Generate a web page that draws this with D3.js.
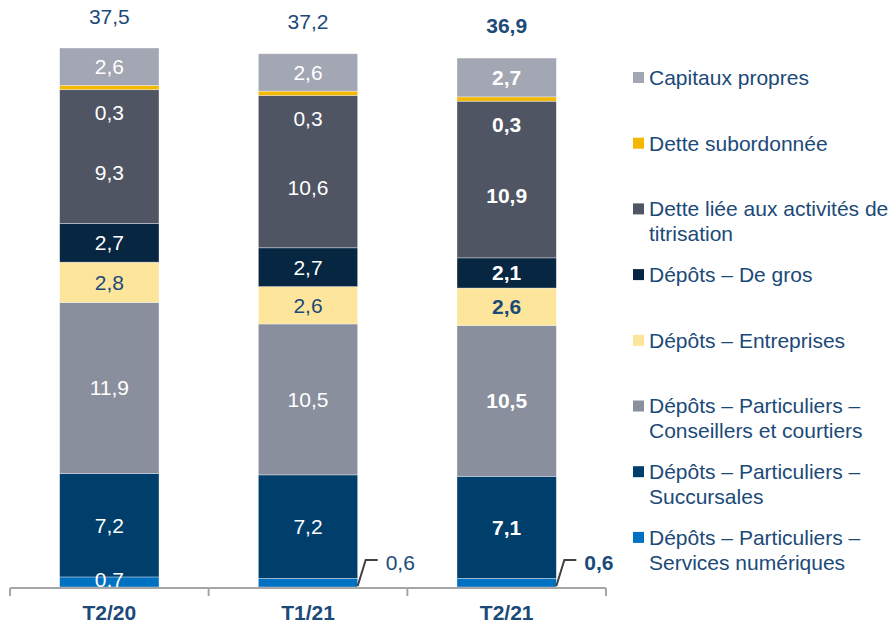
<!DOCTYPE html>
<html>
<head>
<meta charset="utf-8">
<script src="https://cdn.jsdelivr.net/npm/d3@7"></script>
<style>
  body { margin: 0; background: #fff; }
  text { font-family: "Liberation Sans", Arial, sans-serif; }
</style>
</head>
<body>
<div id="chart"></div>
<script>
// Stacked bars, bottom to top
const categories = ["T2/20", "T1/21", "T2/21"];
const totals = [37.5, 37.2, 36.9];

const servicesNum = [0.7, 0.6, 0.6];
const succursales = [7.2, 7.2, 7.1];
const conseillers = [11.9, 10.5, 10.5];
const entreprises = [2.8, 2.6, 2.6];
const deGros = [2.7, 2.7, 2.1];
const titrisation = [9.3, 10.6, 10.9];
const detteSub = [0.3, 0.3, 0.3];
const capitaux = [2.6, 2.6, 2.7];

const keys = ["servicesNum", "succursales", "conseillers", "entreprises", "deGros", "titrisation", "detteSub", "capitaux"];
const legendLines = {
  capitaux: ["Capitaux propres"],
  detteSub: ["Dette subordonnée"],
  titrisation: ["Dette liée aux activités de", "titrisation"],
  deGros: ["Dépôts \u2013 De gros"],
  entreprises: ["Dépôts \u2013 Entreprises"],
  conseillers: ["Dépôts \u2013 Particuliers \u2013", "Conseillers et courtiers"],
  succursales: ["Dépôts \u2013 Particuliers \u2013", "Succursales"],
  servicesNum: ["Dépôts \u2013 Particuliers \u2013", "Services numériques"]
};
const colors = {
  servicesNum: "#0070c0",
  succursales: "#003e6b",
  conseillers: "#8a8f9e",
  entreprises: "#fde59c",
  deGros: "#072642",
  titrisation: "#4f5563",
  detteSub: "#f5b800",
  capitaux: "#a3a6b3"
};
const textBlue = "#1b4a78";

const seriesValues = { servicesNum, succursales, conseillers, entreprises, deGros, titrisation, detteSub, capitaux };
const table = categories.map((c, i) => {
  const row = { cat: c, i: i };
  keys.forEach(k => row[k] = seriesValues[k][i]);
  return row;
});

const width = 895, height = 623;
const fmt = v => d3.format(".1f")(v).replace(".", ",");

const svg = d3.select("#chart").append("svg")
  .attr("width", width)
  .attr("height", height);

const x = d3.scaleBand()
  .domain(categories)
  .range([10, 606])
  .paddingInner(0.5)
  .paddingOuter(0.25);

const y = d3.scaleLinear()
  .domain([0, 37.5])
  .range([587, 48]);

const stack = d3.stack().keys(keys)(table);

// bars
const layers = svg.append("g")
  .selectAll("g")
  .data(stack).enter()
  .append("g")
  .attr("fill", d => colors[d.key]);

layers.selectAll("rect")
  .data(d => d).enter()
  .append("rect")
  .attr("x", d => x(d.data.cat))
  .attr("y", d => y(d[1]))
  .attr("width", x.bandwidth())
  .attr("height", d => y(d[0]) - y(d[1]))
  .attr("stroke", "#ffffff")
  .attr("stroke-opacity", 0.5)
  .attr("stroke-width", 0.7);

// segment labels
stack.forEach(layer => {
  layer.forEach((d, i) => {
    const val = d[1] - d[0];
    const h = y(d[0]) - y(d[1]);
    const bold = i === 2 ? "bold" : "normal";
    const fill = layer.key === "entreprises" ? textBlue : "#ffffff";
    if (layer.key === "servicesNum" && h < 9.5) {
      // callout to the right
      const x0 = x(d.data.cat) + x.bandwidth();
      const yb = y(0) - 1;
      svg.append("path")
        .attr("d", "M" + x0 + "," + yb + "L" + (x0 + 8) + "," + (yb - 26) + "L" + (x0 + 20) + "," + (yb - 26))
        .attr("fill", "none")
        .attr("stroke", "#404040")
        .attr("stroke-width", 2);
      svg.append("text")
        .attr("x", x0 + 28)
        .attr("y", yb - 23)
        .attr("dy", "0.35em")
        .attr("font-size", 21)
        .attr("font-weight", bold)
        .attr("fill", textBlue)
        .text(fmt(val));
      return;
    }
    let cy = (y(d[0]) + y(d[1])) / 2;
    if (layer.key === "detteSub") cy = y(d[0]) + 23;
    if (layer.key === "titrisation") cy += 16;
    if (layer.key === "servicesNum") cy -= 2;
    svg.append("text")
      .attr("x", x(d.data.cat) + x.bandwidth() / 2)
      .attr("y", cy)
      .attr("dy", "0.35em")
      .attr("text-anchor", "middle")
      .attr("font-size", 21)
      .attr("font-weight", bold)
      .attr("fill", fill)
      .text(fmt(val));
  });
});

// totals
svg.append("g")
  .selectAll("text")
  .data(categories).enter()
  .append("text")
  .attr("x", d => x(d) + x.bandwidth() / 2)
  .attr("y", (d, i) => y(totals[i]) - 31)
  .attr("dy", "0.35em")
  .attr("text-anchor", "middle")
  .attr("font-size", 21)
  .attr("font-weight", (d, i) => i === 2 ? "bold" : "normal")
  .attr("fill", textBlue)
  .text((d, i) => fmt(totals[i]));

// x axis
const axisY = 588;
svg.append("line")
  .attr("x1", 10).attr("x2", 606)
  .attr("y1", axisY).attr("y2", axisY)
  .attr("stroke", "#a6a6a6")
  .attr("stroke-width", 2);
const step = x.step();
d3.range(categories.length + 1).forEach(i => {
  const tx = 10 + i * step;
  svg.append("line")
    .attr("x1", tx).attr("x2", tx)
    .attr("y1", axisY).attr("y2", axisY + 8)
    .attr("stroke", "#a6a6a6")
    .attr("stroke-width", 2);
});
svg.append("g")
  .selectAll("text")
  .data(categories).enter()
  .append("text")
  .attr("x", d => x(d) + x.bandwidth() / 2)
  .attr("y", 620)
  .attr("text-anchor", "middle")
  .attr("font-size", 21)
  .attr("font-weight", "bold")
  .attr("fill", textBlue)
  .text(d => d);

// legend
const legendKeys = keys.slice().reverse();
const legend = svg.append("g")
  .selectAll("g")
  .data(legendKeys).enter()
  .append("g")
  .attr("transform", (d, i) => "translate(633," + (77.5 + i * 65.7) + ")");

legend.append("rect")
  .attr("x", 0)
  .attr("y", -5.5)
  .attr("width", 11)
  .attr("height", 11)
  .attr("fill", d => colors[d]);

legend.append("text")
  .attr("x", 16)
  .attr("font-size", 21)
  .attr("fill", textBlue)
  .selectAll("tspan")
  .data(d => legendLines[d]).enter()
  .append("tspan")
  .attr("x", 16)
  .attr("y", (d, i) => i * 25)
  .attr("dy", "0.35em")
  .text(d => d);
</script>
</body>
</html>
